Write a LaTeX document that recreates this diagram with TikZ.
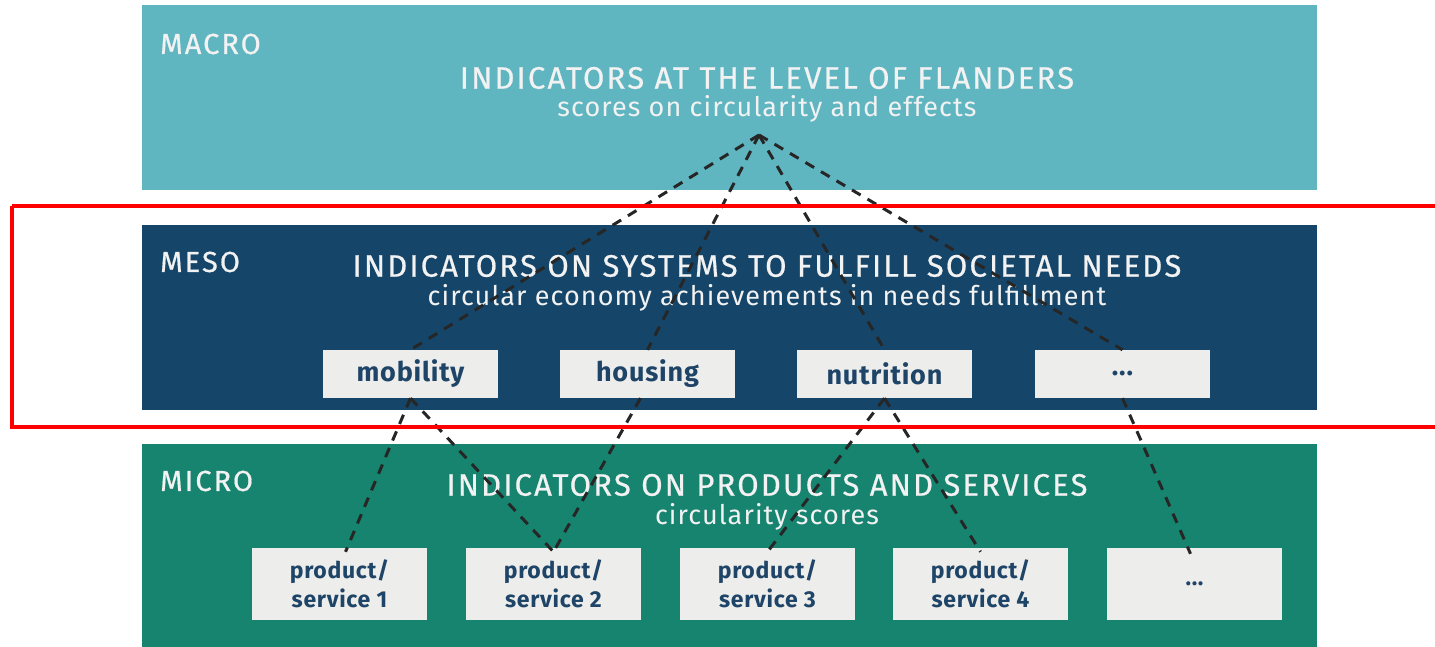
\documentclass[tikz,border=0pt]{standalone}
\usepackage{fontspec}
\setmainfont{Fira Sans}
\newfontfamily\titlefont[LetterSpace=7, FakeBold=0.6]{Fira Sans}
\newfontfamily\subfont[LetterSpace=4]{Fira Sans}
\newfontfamily\boxfont[LetterSpace=3]{Fira Sans}
\definecolor{macroC}{HTML}{5FB5C0}
\definecolor{mesoC}{HTML}{154669}
\definecolor{microC}{HTML}{178470}
\definecolor{boxC}{HTML}{EDEDEB}
\definecolor{boxT}{HTML}{1E4467}
\definecolor{txtC}{HTML}{F2F2F2}
\tikzset{
  lvl/.style={anchor=west, inner sep=0pt, text=txtC, font=\titlefont\fontsize{29}{34}\selectfont},
  ttl/.style={text=txtC, inner sep=0pt, font=\titlefont\fontsize{31}{36}\selectfont},
  sub/.style={text=txtC, inner sep=0pt, font=\subfont\fontsize{27}{32}\selectfont},
  needbox/.style={fill=boxC, draw=none, minimum width=175pt, minimum height=48pt, inner sep=0pt, text=boxT, font=\boxfont\fontsize{27}{32}\selectfont\bfseries},
  prodbox/.style={fill=boxC, draw=none, minimum width=175pt, minimum height=72pt, inner sep=0pt, text=boxT, align=center, font=\boxfont\fontsize{23}{29}\selectfont\bfseries},
  link/.style={black!85, line width=3pt, dash pattern=on 10pt off 8pt}
}
\begin{document}
\begin{tikzpicture}[x=1pt, y=-1pt]
\useasboundingbox (0,0) rectangle (1435,647);
% bands
\fill[macroC] (142,5) rectangle (1317,190);
\fill[mesoC] (142,225) rectangle (1317,410);
\fill[microC] (142,444) rectangle (1317,660);
% level labels
\node[lvl] (lmacro) at (160,44) {MACRO};
\node[lvl] (lmeso) at (160,262) {MESO};
\node[lvl] (lmicro) at (160,481) {MICRO};
% titles
\node[ttl] (tmacro) at (767,78) {INDICATORS AT THE LEVEL OF FLANDERS};
\node[sub] (smacro) at (767,109) {scores on circularity and effects};
\node[ttl] (tmeso) at (767,266) {INDICATORS ON SYSTEMS TO FULFILL SOCIETAL NEEDS};
\node[sub] (smeso) at (767,298) {circular economy achievements in needs fulfillment};
\node[ttl] (tmicro) at (767,485) {INDICATORS ON PRODUCTS AND SERVICES};
\node[sub] (smicro) at (767,517) {circularity scores};
% need boxes
\node[needbox] (mob) at (410.5,374) {mobility};
\node[needbox] (hou) at (647.5,374) {housing};
\node[needbox] (nut) at (884.5,374) {nutrition};
\node[needbox] (ndots) at (1122.5,374) {...};
% product boxes
\node[prodbox] (p1) at (339.5,584) {product/\\service 1};
\node[prodbox] (p2) at (553.5,584) {product/\\service 2};
\node[prodbox] (p3) at (767.5,584) {product/\\service 3};
\node[prodbox] (p4) at (980.5,584) {product/\\service 4};
\node[prodbox] (pdots) at (1194.5,584) {...};
% apex
\coordinate (apex) at (759,135);
% links
\draw[link] (apex) -- (mob.north);
\draw[link] (apex) -- (hou.north);
\draw[link] (apex) -- (nut.north);
\draw[link] (apex) -- (ndots.north);
\draw[link] (mob.south) -- ([xshift=6pt,yshift=-4pt]p1.north);
\draw[link] (mob.south) -- ([yshift=-4pt]p2.north);
\draw[link] ([xshift=-7pt]hou.south) -- ([yshift=-4pt]p2.north);
\draw[link] (nut.south) -- ([yshift=-4pt]p3.north);
\draw[link] (nut.south) -- ([yshift=-4pt]p4.north);
\draw[link] (ndots.south) -- ([xshift=-4pt,yshift=-6pt]pdots.north);
% highlight
\draw[red, line width=4pt] (12,206.5) -- (1450,206.5) (1450,427) -- (12,427) -- (12,206.5);
\end{tikzpicture}
\end{document}
